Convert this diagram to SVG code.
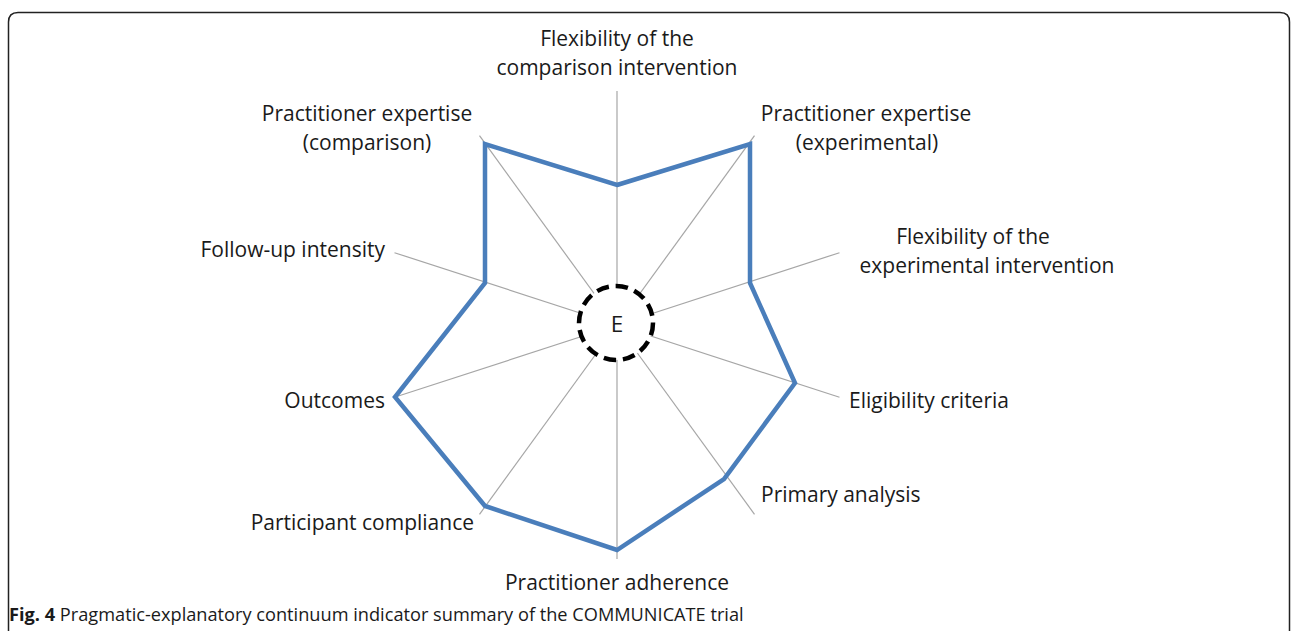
<svg xmlns="http://www.w3.org/2000/svg" width="1293" height="631" viewBox="0 0 1293 631">
<style>
.lbl{font-family:"Open Sans","Liberation Sans",sans-serif;font-size:21px;fill:#1a1a1a}
.mid{text-anchor:middle}
.end{text-anchor:end}
.axis{stroke:#a6a6a6;stroke-width:1.2;fill:none}
.cap{font-family:"Open Sans","Liberation Sans",sans-serif;font-size:18.2px;fill:#1a1a1a}
</style>
<rect width="1293" height="631" fill="#fff"/>
<path d="M8.5,631 V22 Q8.5,12.5 18,12.5 H1280 Q1289.5,12.5 1289.5,22 V631" fill="none" stroke="#222" stroke-width="1.5"/>
<g id="axes">
<line class="axis" x1="617" y1="325" x2="617" y2="91"/>
<line class="axis" x1="617" y1="325" x2="754.5" y2="135.7"/>
<line class="axis" x1="617" y1="325" x2="839.5" y2="252.7"/>
<line class="axis" x1="617" y1="325" x2="839.5" y2="397.3"/>
<line class="axis" x1="617" y1="325" x2="754.5" y2="514.3"/>
<line class="axis" x1="617" y1="325" x2="617" y2="559"/>
<line class="axis" x1="617" y1="325" x2="479.5" y2="514.3"/>
<line class="axis" x1="617" y1="325" x2="394.5" y2="397.3"/>
<line class="axis" x1="617" y1="325" x2="394.5" y2="252.7"/>
<line class="axis" x1="617" y1="325" x2="479.5" y2="135.7"/>
</g>
<g id="series">
<polygon points="617,185 750,144 750,283 795,383 724,479 617,550 485,506 395,397 485,283 485,144" fill="none" stroke="#4a7ebb" stroke-width="4.5" stroke-linejoin="miter"/>
</g>
<g id="center">
<circle cx="616" cy="323" r="37" fill="#fff" stroke="#000" stroke-width="4.5" stroke-dasharray="12.5,6.8"/>
<text class="lbl mid" x="617" y="332" style="font-size:22.5px">E</text>
</g>
<g id="label-flex-comp"><text class="lbl mid" x="617" y="46">Flexibility of the</text><text class="lbl mid" x="617" y="75">comparison intervention</text></g>
<g id="label-pe-exp"><text class="lbl mid" x="866" y="121">Practitioner expertise</text><text class="lbl mid" x="867" y="150">(experimental)</text></g>
<g id="label-flex-exp"><text class="lbl mid" x="973" y="244">Flexibility of the</text><text class="lbl mid" x="987" y="273">experimental intervention</text></g>
<g id="label-elig"><text class="lbl" x="849" y="408">Eligibility criteria</text></g>
<g id="label-primary"><text class="lbl" x="761" y="502">Primary analysis</text></g>
<g id="label-adherence"><text class="lbl mid" x="617" y="590">Practitioner adherence</text></g>
<g id="label-compliance"><text class="lbl end" x="474" y="530">Participant compliance</text></g>
<g id="label-outcomes"><text class="lbl end" x="385" y="408">Outcomes</text></g>
<g id="label-followup"><text class="lbl end" x="385" y="257">Follow-up intensity</text></g>
<g id="label-pe-comp"><text class="lbl mid" x="367" y="121">Practitioner expertise</text><text class="lbl mid" x="367" y="150">(comparison)</text></g>
<text class="cap" x="9" y="621"><tspan font-weight="bold">Fig. 4</tspan> Pragmatic-explanatory continuum indicator summary of the COMMUNICATE trial</text>
</svg>
